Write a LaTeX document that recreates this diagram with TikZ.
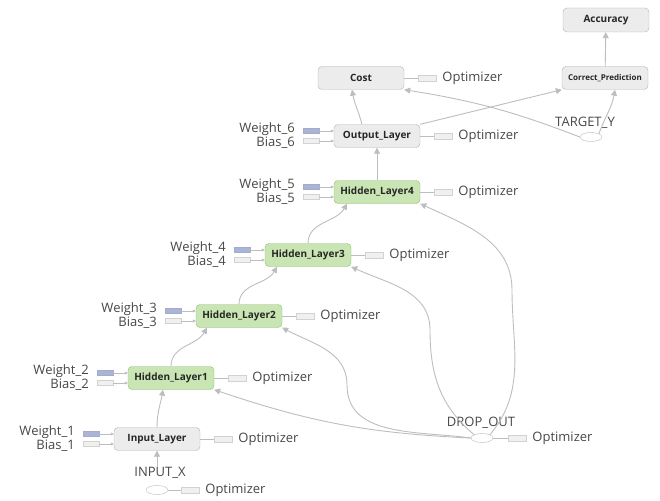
\documentclass[tikz,border=0pt]{standalone}
\usepackage{fontspec}
\setmainfont{Open Sans}
\usetikzlibrary{arrows.meta,positioning,shapes.geometric}
\definecolor{boxgray}{HTML}{ECECEC}
\definecolor{edgegray}{HTML}{B4B4B4}
\definecolor{boxgreen}{HTML}{C9E5B3}
\definecolor{edgegreen}{HTML}{8DBE6E}
\definecolor{wblue}{HTML}{AAB4D6}
\definecolor{linegray}{HTML}{BDBDBD}

\begin{document}
\begin{tikzpicture}[x=1pt,y=-1pt,
    op/.style={draw=edgegray,fill=boxgray,rounded corners=4pt,minimum width=86pt,minimum height=23pt,inner sep=1pt,font=\fontsize{10}{12}\selectfont\bfseries,text=black!85},
    hid/.style={op,draw=edgegreen,fill=boxgreen},
    wrect/.style={draw=wblue!85!gray,fill=wblue,minimum width=16pt,minimum height=5pt,inner sep=0pt},
    brect/.style={draw=gray!35,fill=gray!12,minimum width=16pt,minimum height=5pt,inner sep=0pt},
    orect/.style={brect,minimum width=18pt,minimum height=6pt},
    lbl/.style={font=\fontsize{13}{14}\selectfont,text=black!72,inner sep=0pt},
    flow/.style={draw=linegray,line width=0.9pt,-{Triangle[length=6pt,width=6pt]}},
    tick/.style={draw=linegray,line width=0.6pt,-{Triangle[length=3pt,width=3pt]}},
    hole/.style={draw=gray!55,fill=white,ellipse,minimum width=22pt,minimum height=9pt,inner sep=0pt}]
\useasboundingbox (0,0) rectangle (660,500);

\foreach \k/\t/\s/\x/\y in {1/Input\_Layer/op/157/439, 2/Hidden\_Layer1/hid/171/378, 3/Hidden\_Layer2/hid/239/316,
                            4/Hidden\_Layer3/hid/308/255, 5/Hidden\_Layer4/hid/377/192, 6/Output\_Layer/op/377/136}{
    \node[\s] (L\k) at (\x,\y) {\t};
    \node[wrect] (W\k) at (\x-66,\y-5) {};
    \node[brect] (B\k) at (\x-66,\y+5) {};
    \node[lbl,anchor=east] (wl\k) at (\x-82,\y-7) {Weight\_\k};
    \node[lbl,anchor=east] (bl\k) at (\x-82,\y+7) {Bias\_\k};
    \node[orect] (O\k) at (\x+66,\y) {};
    \node[lbl,right=6pt of O\k] (ol\k) {Optimizer};
    \draw[tick] (W\k) -- (W\k -| L\k.west);
    \draw[tick] (B\k) -- (B\k -| L\k.west);
    \draw[linegray,line width=0.6pt] (L\k) -- (O\k);
}

\node[op] (cost) at (361,78) {Cost};
\node[orect] (O7) at (427,78) {};
\node[lbl,right=6pt of O7] (ol7) {Optimizer};
\draw[linegray,line width=0.6pt] (cost) -- (O7);
\node[op] (cp) at (605,78) {\fontsize{8}{9}\selectfont Correct\_Prediction};
\node[op,minimum height=24pt] (acc) at (606,20) {Accuracy};

\node[hole] (ty) at (591,137) {};
\node[lbl] (tyl) at (585,123) {TARGET\_Y};
\node[hole] (dr) at (482,438) {};
\node[lbl] (drl) at (481,423) {DROP\_OUT};
\node[orect] (O8) at (517,438) {};
\node[lbl,right=6pt of O8] (ol8) {Optimizer};
\draw[linegray,line width=0.6pt] (dr) -- (O8);
\node[hole] (ix) at (157,490) {};
\node[lbl] (ixl) at (160,473) {INPUT\_X};
\node[orect] (O9) at (190,490) {};
\node[lbl,right=6pt of O9] (ol9) {Optimizer};
\draw[linegray,line width=0.6pt] (ix) -- (O9);

% bends of the dropout lines
\coordinate (d2) at (347,385);
\coordinate (d3) at (430,330);
\coordinate (d4) at (512,290);

\draw[flow] (L1.south |- ixl.north) -- (L1.south);
\draw[flow] (L1.north) to[out=90,in=-100] ([xshift=-8pt]L2.south);
\draw[flow] (L2.north) to[out=90,in=-120] ([xshift=-32pt]L3.south);
\draw[flow] (L3.north) to[out=90,in=-120] ([xshift=-31pt]L4.south);
\draw[flow] (L4.north) to[out=90,in=-120] ([xshift=-30pt]L5.south);
\draw[flow] (L5) -- (L6);
\draw[flow] ([xshift=-15pt]L6.north) to[out=105,in=-80] ([xshift=-9pt]cost.south);
\draw[flow] (L6.north east) -- (cp.south west);
\draw[flow] (cp) -- (acc);
\draw[flow] (ty.west) to[bend right=6] (cost.south east);
\draw[flow] (ty.north east) to[out=70,in=-100] ([xshift=10pt]cp.south);
\draw[flow] (dr.west) to[bend left=8] (L2.south east);
\draw[flow] (dr.west) to[out=172,in=-90] (d2) to[out=90,in=-28] (L3.south east);
\draw[flow] (dr.north west) to[out=140,in=-90] (d3) to[out=90,in=-25] (L4.south east);
\draw[flow] (dr.north east) to[out=50,in=-90] (d4) to[out=90,in=-25] (L5.south east);
\end{tikzpicture}
\end{document}
